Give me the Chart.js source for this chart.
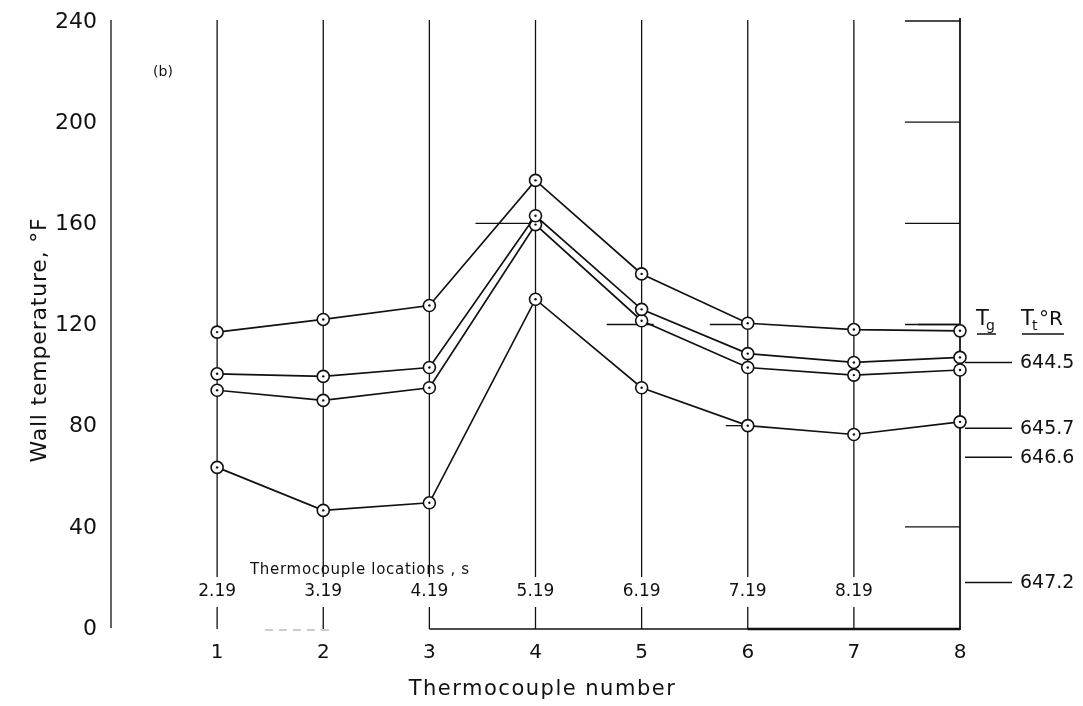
<!DOCTYPE html>
<html>
<head>
<meta charset="utf-8">
<script src="https://cdn.jsdelivr.net/npm/chart.js@4.4.1/dist/chart.umd.min.js"></script>
<style>
  html, body { margin: 0; padding: 0; background: #fff; }
  #wrap { width: 1083px; height: 706px; }
</style>
</head>
<body>
<div id="wrap"><canvas id="myChart"></canvas></div>
<script>
const thermocouples = [1, 2, 3, 4, 5, 6, 7, 8];
const locations = ["2.19", "3.19", "4.19", "5.19", "6.19", "7.19", "8.19"];
const yTicks = [0, 40, 80, 120, 160, 200, 240];

// wall temperature, deg F, one array per run (top curve first)
const run1 = [117, 122, 127.5, 177, 140, 120.5, 118, 117.5];
const run2 = [100.5, 99.5, 103, 163, 126, 108.5, 105, 107];
const run3 = [94, 90, 95, 159.5, 121.5, 103, 100, 102];
const run4 = [63.5, 46.5, 49.5, 130, 95, 80, 76.5, 81.5];

// T_t labels on the right edge, placed at these wall temperatures
const ttValues = [105, 79, 67.5, 18];
const ttLabels = ["644.5", "645.7", "646.6", "647.2"];

const FONT = '"DejaVu Sans", sans-serif';
const ctx = document.getElementById("myChart");

const toPoints = (arr) => arr.map((v, i) => ({ x: thermocouples[i], y: v }));

const makeSet = (arr) => ({
  data: toPoints(arr),
  borderColor: "#111",
  borderWidth: 1.7,
  pointRadius: 6,
  pointHoverRadius: 6,
  pointBorderWidth: 1.6,
  pointBackgroundColor: "#fff",
  pointBorderColor: "#111",
  tension: 0,
  clip: false,
});

const figure = {
  id: "figure",
  beforeDatasetsDraw(chart) {
    const { ctx: c, chartArea: a } = chart;
    const xs = chart.scales.x;
    const ys = chart.scales.y;
    c.save();
    c.strokeStyle = "#111";
    c.lineWidth = 1.3;

    // left axis
    c.beginPath();
    c.moveTo(a.left, a.top - 1);
    c.lineTo(a.left, a.bottom);
    c.stroke();

    // right axis (thermocouple 8)
    c.lineWidth = 1.8;
    c.beginPath();
    c.moveTo(a.right, a.top - 3);
    c.lineTo(a.right, a.bottom + 2);
    c.stroke();

    // vertical lines for thermocouples 1-7, broken for location labels
    c.lineWidth = 1.3;
    for (let i = 1; i <= 7; i++) {
      const x = xs.getPixelForValue(i);
      c.beginPath();
      c.moveTo(x, a.top - 1);
      c.lineTo(x, a.bottom - 51);
      c.moveTo(x, a.bottom - 21);
      c.lineTo(x, a.bottom + 1);
      c.stroke();
    }

    // inward ticks on right axis
    [40, 120, 160, 200, 240].forEach((v) => {
      const y = ys.getPixelForValue(v);
      c.beginPath();
      c.moveTo(a.right - 55, y);
      c.lineTo(a.right, y);
      c.stroke();
    });

    // short marks left over on the grid
    [[4, 160, -60, -4], [5, 120, -35, 12], [6, 120, -38, 0], [8, 120, -42, 0], [6, 80, -22, 0]].forEach((m) => {
      const x = xs.getPixelForValue(m[0]);
      const y = ys.getPixelForValue(m[1]);
      c.beginPath();
      c.moveTo(x + m[2], y);
      c.lineTo(x + m[3], y);
      c.stroke();
    });

    // bottom line
    const y0 = ys.getPixelForValue(0) + 1;
    c.beginPath();
    c.moveTo(xs.getPixelForValue(3), y0);
    c.lineTo(a.right, y0);
    c.stroke();
    c.lineWidth = 2.4;
    c.beginPath();
    c.moveTo(xs.getPixelForValue(6), y0);
    c.lineTo(a.right, y0);
    c.stroke();
    c.strokeStyle = "#999";
    c.lineWidth = 1;
    c.setLineDash([8, 6]);
    c.beginPath();
    c.moveTo(xs.getPixelForValue(1.45), y0 + 1);
    c.lineTo(xs.getPixelForValue(2.1), y0 + 1);
    c.stroke();
    c.setLineDash([]);

    // outward ticks for T_t labels
    c.strokeStyle = "#111";
    c.lineWidth = 1.4;
    ttValues.forEach((v) => {
      const y = ys.getPixelForValue(v);
      c.beginPath();
      c.moveTo(a.right + 5, y);
      c.lineTo(a.right + 52, y);
      c.stroke();
    });
    c.restore();
  },
  afterDatasetsDraw(chart) {
    const c = chart.ctx;
    c.save();
    c.fillStyle = "#111";
    chart.data.datasets.forEach((ds, i) => {
      chart.getDatasetMeta(i).data.forEach((pt) => {
        c.beginPath();
        c.arc(pt.x, pt.y, 1.2, 0, Math.PI * 2);
        c.fill();
      });
    });
    c.restore();
  },
  afterDraw(chart) {
    const { ctx: c, chartArea: a } = chart;
    const xs = chart.scales.x;
    const ys = chart.scales.y;
    c.save();
    c.fillStyle = "#111";

    // y tick labels
    c.font = "22px " + FONT;
    c.textAlign = "right";
    c.textBaseline = "middle";
    yTicks.forEach((v) => c.fillText(String(v), a.left - 14, ys.getPixelForValue(v) + 1));

    // y title
    c.save();
    c.translate(40, 340);
    c.rotate(-Math.PI / 2);
    c.textAlign = "center";
    c.font = "22px " + FONT;
    c.letterSpacing = "0.8px";
    c.fillText("Wall temperature, °F", 0, 0);
    c.restore();

    // panel letter
    c.font = "14px " + FONT;
    c.textAlign = "center";
    c.fillText("(b)", 163, 72);

    // thermocouple locations
    c.font = "15px " + FONT;
    c.textAlign = "left";
    c.letterSpacing = "0.7px";
    c.fillText("Thermocouple locations , s", 250, 570);
    c.letterSpacing = "0px";
    c.font = "17px " + FONT;
    c.textAlign = "center";
    locations.forEach((t, i) => c.fillText(t, xs.getPixelForValue(thermocouples[i]), 592));

    // x tick labels and title
    c.font = "20px " + FONT;
    thermocouples.forEach((t) => c.fillText(String(t), xs.getPixelForValue(t), 653));
    c.font = "21px " + FONT;
    c.letterSpacing = "1.5px";
    c.fillText("Thermocouple number", (a.left + a.right) / 2 + 7, 690);
    c.letterSpacing = "0px";

    // T_t labels
    c.font = "19px " + FONT;
    c.textAlign = "left";
    ttValues.forEach((v, i) => c.fillText(ttLabels[i], a.right + 60, ys.getPixelForValue(v) + 1));

    // column headers
    c.textBaseline = "alphabetic";
    c.font = "21px " + FONT;
    c.fillText("T", 976, 325);
    c.fillText("T", 1021, 325);
    c.font = "14px " + FONT;
    c.fillText("g", 986, 330);
    c.fillText("t", 1032, 330);
    c.font = "20px " + FONT;
    c.fillText("°R", 1039, 325);
    c.strokeStyle = "#111";
    c.lineWidth = 1.3;
    c.beginPath();
    c.moveTo(977, 334);
    c.lineTo(996, 334);
    c.moveTo(1022, 334);
    c.lineTo(1064, 334);
    c.stroke();
    c.restore();
  },
};

new Chart(ctx, {
  type: "line",
  data: {
    datasets: [makeSet(run1), makeSet(run2), makeSet(run3), makeSet(run4)],
  },
  options: {
    responsive: true,
    maintainAspectRatio: false,
    animation: false,
    layout: { padding: { left: 111, right: 123, top: 21, bottom: 78 } },
    scales: {
      x: { type: "linear", min: 0, max: 8, display: false },
      y: { type: "linear", min: 0, max: 240, display: false },
    },
    plugins: {
      legend: { display: false },
      tooltip: { enabled: false },
    },
  },
  plugins: [figure],
});
</script>
</body>
</html>
